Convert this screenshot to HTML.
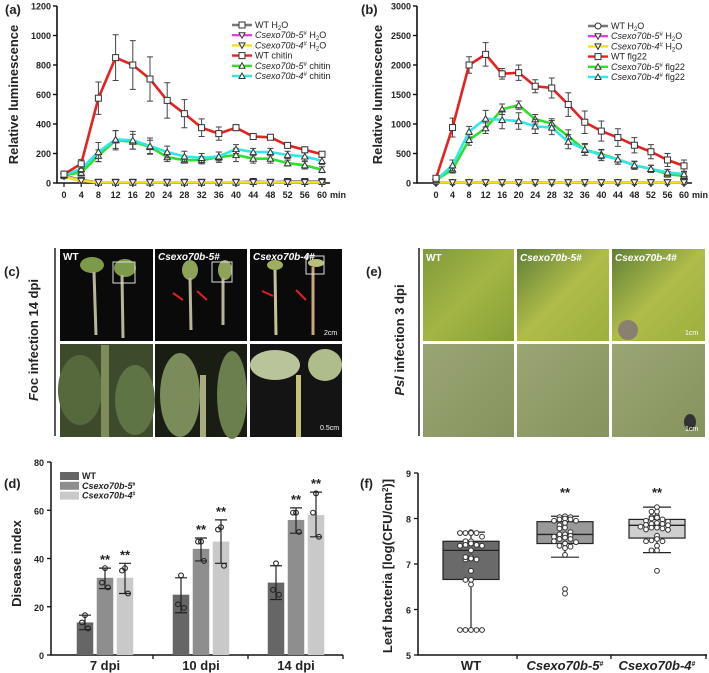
<!DOCTYPE html>
<html><head><meta charset="utf-8"><style>
html,body{margin:0;padding:0;background:#fff;}
svg{display:block;font-family:"Liberation Sans",Arial,sans-serif;}
.t{font-size:9px;font-weight:bold;fill:#222;}
.ti{font-size:13px;font-weight:bold;fill:#222;}
.lg{font-size:9px;fill:#222;}
</style></head><body>
<svg id="fig" width="709" height="673" viewBox="0 0 709 673" xmlns="http://www.w3.org/2000/svg">
<defs>
<linearGradient id="leafTop" x1="0" y1="0" x2="1" y2="1"><stop offset="0" stop-color="#7f9a3a"/><stop offset="0.5" stop-color="#a3b545"/><stop offset="1" stop-color="#85a036"/></linearGradient>
<linearGradient id="leafTop2" x1="0" y1="0" x2="1" y2="1"><stop offset="0" stop-color="#5f7f36"/><stop offset="0.5" stop-color="#b0bc4a"/><stop offset="1" stop-color="#9caf3d"/></linearGradient>
<linearGradient id="leafBot" x1="0" y1="0" x2="1" y2="1"><stop offset="0" stop-color="#9aa574"/><stop offset="1" stop-color="#86935e"/></linearGradient>
</defs>
<text x="5" y="14" class="ti">(a)</text>
<text x="361" y="14" class="ti">(b)</text>
<text x="4" y="276" class="ti">(c)</text>
<text x="366" y="276" class="ti">(e)</text>
<text x="4" y="488" class="ti">(d)</text>
<text x="360" y="488" class="ti">(f)</text>

<g>
<line x1="55" y1="248" x2="55" y2="436" stroke="#222" stroke-width="1.5"/>
<text transform="translate(38,340) rotate(-90)" text-anchor="middle" class="ti"><tspan font-style="italic">F</tspan>oc infection 14 dpi</text>
<rect x="60" y="249" width="93" height="92" fill="#0a0a0a"/>
<rect x="155" y="249" width="92" height="92" fill="#0a0a0a"/>
<rect x="250" y="249" width="92" height="92" fill="#0a0a0a"/>
<rect x="60" y="344" width="93" height="93" fill="#3d4a2c"/>
<rect x="155" y="344" width="92" height="93" fill="#1a1d14"/>
<rect x="250" y="344" width="92" height="93" fill="#141414"/>
<ellipse cx="92" cy="265" rx="12" ry="8" fill="#7d9a4a"/><line x1="94" y1="272" x2="96" y2="335" stroke="#b8b59a" stroke-width="3"/>
<ellipse cx="125" cy="268" rx="11" ry="9" fill="#7d9a4a"/><line x1="122" y1="275" x2="123" y2="338" stroke="#b8b59a" stroke-width="3"/>
<rect x="113" y="262" width="22" height="21" fill="none" stroke="#ddd" stroke-width="1"/>
<ellipse cx="190" cy="270" rx="8" ry="10" fill="#8fa25a"/><line x1="190" y1="278" x2="191" y2="330" stroke="#b8b59a" stroke-width="3"/>
<ellipse cx="225" cy="270" rx="7" ry="10" fill="#8fa25a"/><line x1="223" y1="278" x2="223" y2="325" stroke="#b8b59a" stroke-width="3"/>
<rect x="212" y="262" width="20" height="20" fill="none" stroke="#ddd" stroke-width="1"/>
<ellipse cx="275" cy="265" rx="8" ry="5" fill="#9fb05c"/><line x1="275" y1="270" x2="276" y2="335" stroke="#c7c19a" stroke-width="3"/>
<ellipse cx="316" cy="263" rx="8" ry="4" fill="#b8c07a"/><line x1="313" y1="267" x2="313" y2="335" stroke="#c9a77d" stroke-width="3"/>
<rect x="306" y="256" width="18" height="18" fill="none" stroke="#ddd" stroke-width="1"/>
<line x1="173" y1="293" x2="183" y2="300" stroke="#e02020" stroke-width="2"/>
<line x1="197" y1="291" x2="207" y2="300" stroke="#e02020" stroke-width="2"/>
<line x1="262" y1="291" x2="273" y2="296" stroke="#e02020" stroke-width="2"/>
<line x1="296" y1="290" x2="306" y2="300" stroke="#e02020" stroke-width="2"/>
<text x="63" y="260" font-size="10" font-weight="bold" fill="#fff">WT</text>
<text x="158" y="260" font-size="10" font-weight="bold" font-style="italic" fill="#fff">Csexo70b-5#</text>
<text x="253" y="260" font-size="10" font-weight="bold" font-style="italic" fill="#fff">Csexo70b-4#</text>
<text x="324" y="335" font-size="7" fill="#fff">2cm</text>
<ellipse cx="80" cy="390" rx="22" ry="35" fill="#55693c"/><ellipse cx="135" cy="400" rx="20" ry="35" fill="#5e7444"/>
<rect x="101" y="345" width="8" height="92" fill="#7d8c5a"/>
<ellipse cx="180" cy="395" rx="20" ry="42" fill="#7a8c5a"/><ellipse cx="232" cy="395" rx="15" ry="44" fill="#6b7e4e"/>
<rect x="200" y="375" width="6" height="62" fill="#a8aa80"/>
<ellipse cx="275" cy="365" rx="25" ry="15" fill="#b9c49a"/><ellipse cx="325" cy="365" rx="17" ry="16" fill="#aebd8a"/>
<rect x="296" y="375" width="5" height="62" fill="#c5c27a"/>
<text x="320" y="430" font-size="7" fill="#fff">0.5cm</text>
</g>

<g>
<line x1="419" y1="248" x2="419" y2="436" stroke="#222" stroke-width="1.5"/>
<text transform="translate(404,340) rotate(-90)" text-anchor="middle" class="ti"><tspan font-style="italic">Psl</tspan> infection 3 dpi</text>
<rect x="423" y="249" width="91" height="92" fill="url(#leafTop)"/>
<rect x="517" y="249" width="92" height="92" fill="url(#leafTop2)"/>
<rect x="612" y="249" width="93" height="92" fill="url(#leafTop2)"/>
<rect x="423" y="344" width="91" height="93" fill="url(#leafBot)"/>
<rect x="517" y="344" width="92" height="93" fill="url(#leafBot)"/>
<rect x="612" y="344" width="93" height="93" fill="url(#leafBot)"/>
<ellipse cx="628" cy="330" rx="10" ry="10" fill="#8a8070"/>
<ellipse cx="690" cy="422" rx="6" ry="8" fill="#333"/>
<text x="426" y="261" font-size="10" font-weight="bold" fill="#fff">WT</text>
<text x="520" y="261" font-size="10" font-weight="bold" font-style="italic" fill="#fff">Csexo70b-5#</text>
<text x="615" y="261" font-size="10" font-weight="bold" font-style="italic" fill="#fff">Csexo70b-4#</text>
<text x="685" y="335" font-size="7" fill="#fff">1cm</text>
<text x="685" y="431" font-size="7" fill="#fff">1cm</text>
</g>
<g id="charts"></g>
</svg>
<script>
// ===== Panel a data =====
const aTimes = [0,4,8,12,16,20,24,28,32,36,40,44,48,52,56,60];
const aTicks = [0,200,400,600,800,1000,1200];
const aWTchitin = [60,130,575,850,800,705,560,470,375,335,375,315,310,255,225,195];
const aWTchitinErr = [20,30,110,155,165,150,120,95,60,45,20,15,15,10,20,15];
const a5chitin = [55,70,185,290,280,245,175,155,155,175,190,165,165,135,120,90];
const a5chitinErr = [15,20,40,65,50,45,30,20,25,35,45,30,30,20,25,20];
const a4chitin = [55,95,210,295,290,250,210,180,170,180,230,210,210,190,180,150];
const a4chitinErr = [15,25,65,60,60,55,40,35,30,30,30,25,25,25,30,25];
const aWTwater = [50,20,5,5,5,5,5,5,5,5,5,10,5,10,10,10];
const a5water = [45,15,5,5,5,5,5,5,5,5,5,5,5,5,5,5];
const a4water = [45,15,5,5,5,5,5,5,5,5,5,5,5,5,5,5];
// ===== Panel b data =====
const bTicks = [0,500,1000,1500,2000,2500,3000];
const bWTflg = [80,940,2000,2180,1850,1870,1640,1610,1330,1030,880,770,640,530,390,290];
const bWTflgErr = [30,160,140,200,90,130,110,170,200,190,170,150,130,120,110,100];
const b5flg = [50,230,730,930,1250,1320,1080,1010,790,560,490,400,300,240,150,120];
const b5flgErr = [30,60,90,90,90,70,80,80,110,90,80,80,70,60,50,50];
const b4flg = [50,300,870,1090,1070,1050,960,940,700,570,470,400,300,240,180,150];
const b4flgErr = [30,90,90,140,150,140,120,120,120,100,90,80,60,60,50,50];
const bWTwater = [10,10,10,10,10,10,10,10,10,10,10,10,10,10,10,10];
const b5water = [10,10,10,10,10,10,10,10,10,10,10,10,10,10,10,10];
const b4water = [10,10,10,10,10,10,10,10,10,10,10,10,10,10,10,10];
// ===== Panel d data =====
const dGroups = ["7 dpi","10 dpi","14 dpi"];
const dTicks = [0,20,40,60,80];
const dWT = [13.5,25,30];
const d5 = [32,44,56];
const d4 = [32,47,58];
const dWThi = [16.5,32,37]; const dWTlo = [10.5,17.5,23];
const d5hi = [36,48.5,61]; const d5lo = [27.5,39,50.5];
const d4hi = [38,56,67.5]; const d4lo = [25.5,38,49];
const dWTpts = [[16.5,13.5,11],[33,21,19.5],[38,27,25]];
const d5pts = [[36,30,28],[47,47,39],[59,59,51]];
const d4pts = [[36,35,25.5],[53,52,37],[67,59,49]];
// ===== Panel f data =====
const fGroups = ["WT","Csexo70b-5#","Csexo70b-4#"];
const fTicks = [5,6,7,8,9];
const fQ1 = [6.66,7.45,7.57];
const fMed = [7.3,7.65,7.85];
const fQ3 = [7.5,7.93,7.98];
const fMin = [5.55,7.15,7.25];
const fMax = [7.7,8.05,8.25];
const fPtsWT = [7.7,7.68,7.68,7.68,7.68,7.6,7.5,7.5,7.45,7.42,7.42,7.4,7.4,7.3,7.15,7.12,7.1,7.1,7.15,6.85,6.65,6.65,6.55,5.55,5.55,5.55,5.55,5.55];
const fPts5 = [8.05,8.03,8.03,8.0,7.98,7.98,7.95,7.95,7.9,7.85,7.8,7.78,7.7,7.65,7.65,7.62,7.6,7.58,7.55,7.55,7.5,7.48,7.45,7.4,7.38,7.35,7.2,6.45,6.35];
const fPts4 = [8.25,8.15,8.15,8.05,8.03,8.02,8.0,7.98,7.95,7.93,7.9,7.88,7.88,7.86,7.85,7.82,7.8,7.8,7.78,7.76,7.75,7.62,7.55,7.52,7.5,7.5,7.4,7.3,7.3,6.85];

const NS='http://www.w3.org/2000/svg';
const root=document.getElementById('charts');
function mk(tag,attrs,parent){const e=document.createElementNS(NS,tag);for(const k in attrs)e.setAttribute(k,attrs[k]);(parent||root).appendChild(e);return e;}

function lineChart(o){
  const g=mk('g',{});
  
  
  const ymax=o.ticks[o.ticks.length-1];
  const Y=v=>o.y0-(v/ymax)*(o.y0-o.yTop);
  const X=t=>o.x0+(t/60)*(o.x60-o.x0);
  const ax=mk('path',{d:`M${o.axX},${o.yTop} V${o.y0} H${o.x60+8}`,stroke:'#111','stroke-width':1.6,fill:'none'},g);
  
  
  o.ticks.forEach(v=>{
    mk('line',{x1:o.axX-4,x2:o.axX,y1:Y(v),y2:Y(v),stroke:'#111','stroke-width':1.4},g);
    const t=mk('text',{x:o.axX-6,y:Y(v)+3.5,'text-anchor':'end',class:'t','font-size':10},g);
    t.textContent=v;
    
    
  });
  aTimes.forEach(tm=>{
    mk('line',{x1:X(tm),x2:X(tm),y1:o.y0,y2:o.y0+4,stroke:'#111','stroke-width':1.2},g);
    const t=mk('text',{x:X(tm),y:o.y0+15,'text-anchor':'middle',class:'t','font-size':7.5},g);
    t.textContent=tm;
    
    
  });
  const mn=mk('text',{x:X(60)+8,y:o.y0+15,class:'t','font-size':8},g);
  mn.textContent='min';
  
  
  const yt=mk('text',{transform:`translate(${o.titleX},${(o.y0+o.yTop)/2}) rotate(-90)`,'text-anchor':'middle',class:'ti'},g);
  yt.textContent='Relative luminescence';
  
  
  o.series.forEach(s=>{
    const sg=mk('g',{},g);
    
    
    if(s.err) s.vals.forEach((v,i)=>{
      const x=X(aTimes[i]);
      mk('path',{d:`M${x},${Y(v+s.err[i])} V${Y(Math.max(0,v-s.err[i]))} M${x-3},${Y(v+s.err[i])} h6 M${x-3},${Y(Math.max(0,v-s.err[i]))} h6`,stroke:'#444','stroke-width':1,fill:'none'},sg);
    });
    const p=mk('polyline',{points:s.vals.map((v,i)=>X(aTimes[i])+','+Y(v)).join(' '),fill:'none',stroke:s.color,'stroke-width':2.6},sg);
    
    
    s.vals.forEach((v,i)=>{
      const x=X(aTimes[i]),y=Y(v);
      let m;
      if(s.mark==='sq') m=mk('rect',{x:x-3,y:y-3,width:6,height:6,fill:'#fff',stroke:'#333','stroke-width':1},sg);
      else if(s.mark==='ci') m=mk('circle',{cx:x,cy:y,r:3,fill:'#fff',stroke:'#333','stroke-width':1},sg);
      else if(s.mark==='tu') m=mk('path',{d:`M${x-3.2},${y+2.6} L${x+3.2},${y+2.6} L${x},${y-3} Z`,fill:'#fff',stroke:'#333','stroke-width':1},sg);
      else m=mk('path',{d:`M${x-3.2},${y-2.6} L${x+3.2},${y-2.6} L${x},${y+3} Z`,fill:'#fff',stroke:'#333','stroke-width':1},sg);
      
      
    });
  });
  o.legend.forEach((l,i)=>{
    const y=o.legY+i*10.2;
    const lg=mk('g',{},g);
    
    
    mk('line',{x1:o.legX,x2:o.legX+20,y1:y,y2:y,stroke:l.color,'stroke-width':2.4},lg);
    const cx=o.legX+10;
    if(l.mark==='sq') mk('rect',{x:cx-3,y:y-3,width:6,height:6,fill:'#fff',stroke:'#333'},lg);
    else if(l.mark==='ci') mk('circle',{cx:cx,cy:y,r:3,fill:'#fff',stroke:'#333'},lg);
    else if(l.mark==='tu') mk('path',{d:`M${cx-3},${y+2.5} L${cx+3},${y+2.5} L${cx},${y-3} Z`,fill:'#fff',stroke:'#333'},lg);
    else mk('path',{d:`M${cx-3},${y-2.5} L${cx+3},${y-2.5} L${cx},${y+3} Z`,fill:'#fff',stroke:'#333'},lg);
    const t=mk('text',{x:o.legX+23,y:y+3,class:'lg'},lg);
    t.innerHTML=l.html;
  });
}
const mutH2O=n=>`<tspan font-style="italic">Csexo70b-${n}</tspan><tspan font-size="6" dy="-3">#</tspan><tspan dy="3"> H</tspan><tspan font-size="6" dy="2">2</tspan><tspan dy="-2">O</tspan>`;
const mutT=(n,s)=>`<tspan font-style="italic">Csexo70b-${n}</tspan><tspan font-size="6" dy="-3">#</tspan><tspan dy="3"> ${s}</tspan>`;
const wtH2O='WT H<tspan font-size="6" dy="2">2</tspan><tspan dy="-2">O</tspan>';

lineChart({name:'panel-a-chart',axX:57,yTop:6,y0:183,x0:64,x60:322,titleX:18,ticks:aTicks,legX:232,legY:25,
  series:[
    {name:'wt-h2o',vals:aWTwater,color:'#777',mark:'sq'},
    {name:'exo5-h2o',vals:a5water,color:'#e040e0',mark:'td'},
    {name:'exo4-h2o',vals:a4water,color:'#f0e020',mark:'td'},
    {name:'exo5-chitin',vals:a5chitin,err:a5chitinErr,color:'#2ee02e',mark:'tu'},
    {name:'exo4-chitin',vals:a4chitin,err:a4chitinErr,color:'#30e6e6',mark:'tu'},
    {name:'wt-chitin',vals:aWTchitin,err:aWTchitinErr,color:'#e82020',mark:'sq'}],
  legend:[{color:'#777',mark:'sq',html:wtH2O},{color:'#e040e0',mark:'td',html:mutH2O(5)},{color:'#f0e020',mark:'td',html:mutH2O(4)},
    {color:'#e82020',mark:'sq',html:'WT chitin'},{color:'#2ee02e',mark:'tu',html:mutT(5,'chitin')},{color:'#30e6e6',mark:'tu',html:mutT(4,'chitin')}]});

lineChart({name:'panel-b-chart',axX:417,yTop:6,y0:183,x0:436,x60:684,titleX:382,ticks:bTicks,legX:588,legY:26,
  series:[
    {name:'wt-h2o',vals:bWTwater,color:'#777',mark:'ci'},
    {name:'exo5-h2o',vals:b5water,color:'#e040e0',mark:'td'},
    {name:'exo4-h2o',vals:b4water,color:'#f0e020',mark:'td'},
    {name:'exo5-flg22',vals:b5flg,err:b5flgErr,color:'#2ee02e',mark:'tu'},
    {name:'exo4-flg22',vals:b4flg,err:b4flgErr,color:'#30e6e6',mark:'tu'},
    {name:'wt-flg22',vals:bWTflg,err:bWTflgErr,color:'#e82020',mark:'sq'}],
  legend:[{color:'#777',mark:'ci',html:wtH2O},{color:'#e040e0',mark:'td',html:mutH2O(5)},{color:'#f0e020',mark:'td',html:mutH2O(4)},
    {color:'#e82020',mark:'sq',html:'WT flg22'},{color:'#2ee02e',mark:'tu',html:mutT(5,'flg22')},{color:'#30e6e6',mark:'tu',html:mutT(4,'flg22')}]});

(function(){
  const g=mk('g',{});
  
  
  const y0=655,yT=462,axX=51,axR=343;
  const Y=v=>y0-(v/80)*(y0-yT);
  const gc=[105,201,296], bw=16.5, off=[-20,0,20];
  const ax=mk('path',{d:`M${axX},${yT} V${y0} H${axR}`,stroke:'#111','stroke-width':1.5,fill:'none'},g);
  
  
  dTicks.forEach(v=>{
    mk('line',{x1:axX-4,x2:axX,y1:Y(v),y2:Y(v),stroke:'#111','stroke-width':1.3},g);
    const t=mk('text',{x:axX-7,y:Y(v)+4,'text-anchor':'end',class:'t','font-size':11},g);
    t.textContent=v;
    
    
  });
  [153,248,343].forEach(x=>mk('line',{x1:x,x2:x,y1:y0,y2:y0+4,stroke:'#111','stroke-width':1.3},g));
  const yt=mk('text',{transform:`translate(21,${(y0+yT)/2+5}) rotate(-90)`,'text-anchor':'middle',class:'ti','font-size':14},g);
  yt.textContent='Disease index';
  
  
  const sets=[[dWT,dWThi,dWTlo,dWTpts,'#666'],[d5,d5hi,d5lo,d5pts,'#8e8e8e'],[d4,d4hi,d4lo,d4pts,'#c9c9c9']];
  dGroups.forEach((lab,gi)=>{
    const t=mk('text',{x:gc[gi],y:670,'text-anchor':'middle',class:'ti','font-size':12},g);
    t.textContent=lab;
    
    
    sets.forEach((s,si)=>{
      const cx=gc[gi]+off[si];
      const b=mk('rect',{x:cx-bw/2,y:Y(s[0][gi]),width:bw,height:y0-Y(s[0][gi]),fill:s[4]},g);
      
      
      mk('path',{d:`M${cx},${Y(s[1][gi])} V${Y(s[2][gi])} M${cx-6},${Y(s[1][gi])} h12 M${cx-6},${Y(s[2][gi])} h12`,stroke:'#222','stroke-width':1.2,fill:'none'},g);
      s[3][gi].forEach((p,pi)=>{
        const c=mk('circle',{cx:cx+(pi===1?-2:pi===2?2:0)*1.5,cy:Y(p),r:2.4,fill:'none',stroke:'#222','stroke-width':1.1},g);
        
        
      });
      if(si>0){
        const st=mk('text',{x:cx,y:Y(s[1][gi])-4,'text-anchor':'middle',class:'ti','font-size':12},g);
        st.textContent='**';
        
        
      }
    });
  });
  const leg=[['WT','#666'],['Csexo70b-5','#8e8e8e'],['Csexo70b-4','#c9c9c9']];
  leg.forEach((l,i)=>{
    const lg=mk('g',{},g);
    
    
    mk('rect',{x:60,y:472+i*9.8,width:19,height:8,fill:l[1]},lg);
    const t=mk('text',{x:82,y:479+i*9.8,class:'lg','font-size':8,'font-weight':'bold'},lg);
    t.innerHTML=i===0?'WT':`<tspan font-style="italic">${l[0]}</tspan><tspan font-size="5" dy="-3">#</tspan>`;
  });
})();

(function(){
  const g=mk('g',{});
  
  
  const y0=655,yT=473,axX=418,axR=707;
  const Y=v=>y0-((v-5)/4)*(y0-yT);
  const gc=[471,565,657],hw=28;
  const ax=mk('path',{d:`M${axX},${yT} V${y0} H${axR}`,stroke:'#111','stroke-width':1.5,fill:'none'},g);
  
  
  fTicks.forEach(v=>{
    mk('line',{x1:axX-4,x2:axX,y1:Y(v),y2:Y(v),stroke:'#111','stroke-width':1.3},g);
    const t=mk('text',{x:axX-7,y:Y(v)+4,'text-anchor':'end',class:'t','font-size':11},g);
    t.textContent=v;
    
    
  });
  [517,611,706].forEach(x=>mk('line',{x1:x,x2:x,y1:y0,y2:y0+4,stroke:'#111','stroke-width':1.3},g));
  const yt=mk('text',{transform:`translate(392,${(y0+yT)/2+2}) rotate(-90)`,'text-anchor':'middle',class:'ti','font-size':12.5},g);
  yt.innerHTML='Leaf bacteria [log(CFU/cm<tspan font-size="8" dy="-4">2</tspan><tspan dy="4">)]</tspan>';
  
  
  const cols=['#6a6a6a','#999','#cfcfcf'];
  const pts=[fPtsWT,fPts5,fPts4];
  fGroups.forEach((lab,i)=>{
    const x=gc[i];
    mk('path',{d:`M${x},${Y(fMax[i])} V${Y(fMin[i])} M${x-14},${Y(fMax[i])} h28 M${x-14},${Y(fMin[i])} h28`,stroke:'#222','stroke-width':1.2,fill:'none'},g);
    const b=mk('rect',{x:x-hw,y:Y(fQ3[i]),width:hw*2,height:Y(fQ1[i])-Y(fQ3[i]),fill:cols[i],stroke:'#222','stroke-width':1.2},g);
    
    
    mk('line',{x1:x-hw,x2:x+hw,y1:Y(fMed[i]),y2:Y(fMed[i]),stroke:'#222','stroke-width':1.3},g);
    const counts={};
    pts[i].forEach(v=>{
      const k=Math.round(Y(v)/5);
      counts[k]=(counts[k]||0)+1;
      const n=counts[k];
      const dx=(n%2?1:-1)*Math.floor(n/2)*5.5;
      const c=mk('circle',{cx:x+dx,cy:Y(v),r:2.4,fill:'#fff',stroke:'#333','stroke-width':1},g);
      
      
    });
    const t=mk('text',{x:x,y:670,'text-anchor':'middle',class:'ti','font-size':12},g);
    t.innerHTML=i===0?'WT':`<tspan font-style="italic">${lab.replace('#','')}</tspan><tspan font-size="7" dy="-4">#</tspan>`;
    
    
    if(i>0){
      const st=mk('text',{x:x,y:497,'text-anchor':'middle',class:'ti','font-size':14},g);
      st.textContent='**';
      
      
    }
  });
})();
</script>
</body></html>
